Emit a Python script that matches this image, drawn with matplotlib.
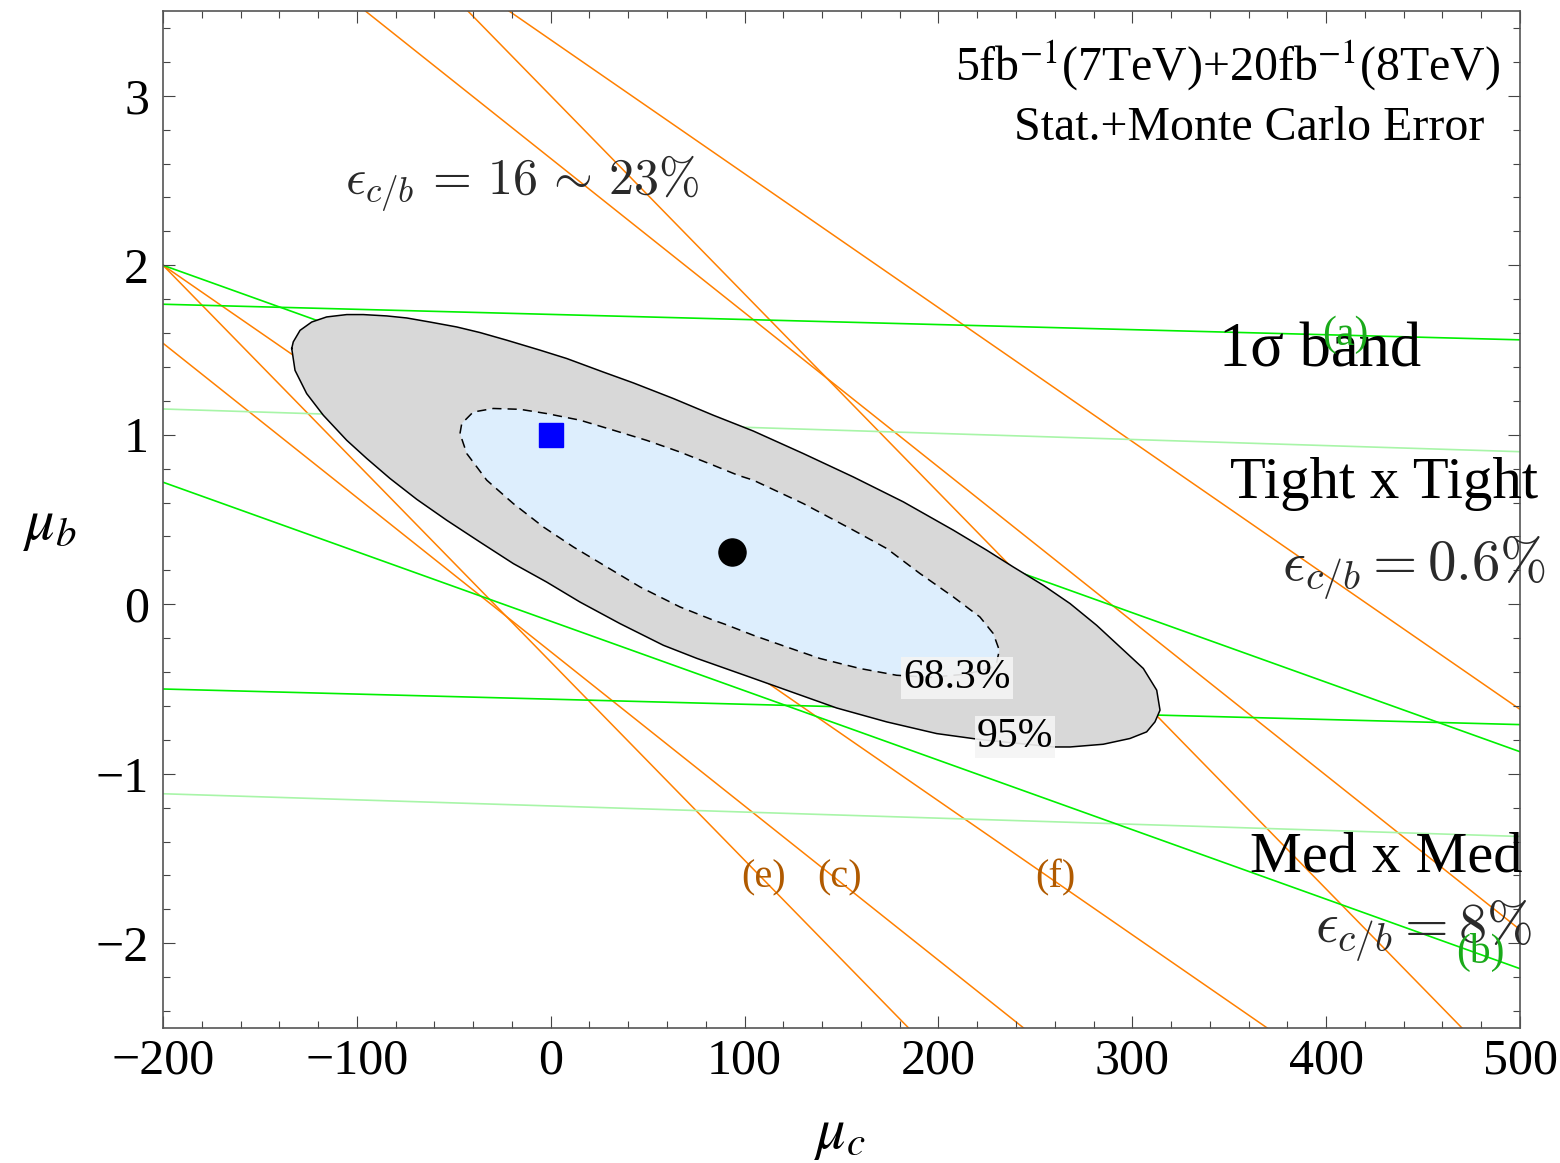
import numpy as np
import matplotlib
matplotlib.use("Agg")
import matplotlib.pyplot as plt
from matplotlib.ticker import MultipleLocator

plt.rcParams['font.family'] = ['Liberation Serif', 'DejaVu Serif']
plt.rcParams['mathtext.fontset'] = 'stix'

# ---------------- data ----------------
# 1-sigma bands: mu_b = intercept + slope * mu_c
orange_labels = ['(e)', '(c)', '(f)']
orange_slopes = [-0.0117, -0.0091, -0.0079]
orange_lo = [-0.34, -0.28, 0.42]
orange_hi = [3.00, 2.63, 3.33]

green_labels = ['(a)', '', '(b)']
green_slopes = [-0.0003, -0.00036, -0.0041]
green_lo = [-0.56, -1.19, -0.10]
green_hi = [1.71, 1.08, 1.18]

# 95% CL contour (mu_c, mu_b)
c95_mu_c = [-133.6, -132.8, -129.3, -123.3, -115.6, -105.2, -96.7, -84.6, -74.3, -62.3,
            -48.5, -36.5, -22.7, -5.5, 8.2, 27.1, 42.6, 63.2, 83.9, 104.5,
            130.3, 156.1, 181.9, 207.7, 224.9, 238.6, 254.1, 267.9, 281.6, 293.7,
            305.7, 312.6, 314.3, 311.7, 307.4, 298.8, 285.0, 267.9, 259.3, 242.1,
            221.4, 199.1, 173.3, 147.5, 121.7, 104.5, 89.9, 75.3, 58.1, 35.7,
            15.1, -2.1, -19.3, -36.5, -53.7, -69.1, -82.9, -94.9, -105.2, -117.3,
            -125.9, -131.9]
c95_mu_b = [1.509, 1.548, 1.616, 1.665, 1.695, 1.709, 1.709, 1.701, 1.689, 1.665,
            1.636, 1.603, 1.558, 1.499, 1.450, 1.370, 1.306, 1.214, 1.115, 1.022,
            0.889, 0.751, 0.604, 0.437, 0.319, 0.220, 0.112, 0.004, -0.124, -0.252,
            -0.379, -0.507, -0.625, -0.694, -0.753, -0.792, -0.826, -0.842, -0.842, -0.822,
            -0.798, -0.763, -0.694, -0.612, -0.507, -0.437, -0.378, -0.319, -0.242, -0.114,
            0.013, 0.131, 0.240, 0.367, 0.496, 0.619, 0.742, 0.860, 0.967, 1.115,
            1.243, 1.380]

# 68.3% CL contour (mu_c, mu_b)
c68_mu_c = [-46.8, -45.9, -40.0, -29.6, -15.8, -2.1, 15.1, 32.3, 49.5, 66.7,
            83.9, 96.6, 104.5, 130.3, 156.1, 173.3, 190.5, 207.7, 221.4, 228.3,
            231.4, 230.1, 226.6, 213.7, 195.7, 178.5, 159.5, 138.9, 121.7, 104.5,
            89.9, 83.9, 66.7, 46.1, 28.9, 11.7, -3.8, -19.3, -33.0, -43.3]
c68_mu_b = [1.007, 1.066, 1.134, 1.155, 1.150, 1.125, 1.086, 1.027, 0.967, 0.898,
            0.820, 0.761, 0.732, 0.594, 0.437, 0.329, 0.181, 0.043, -0.075, -0.173,
            -0.271, -0.341, -0.379, -0.413, -0.431, -0.419, -0.379, -0.320, -0.252, -0.183,
            -0.118, -0.094, -0.016, 0.102, 0.220, 0.338, 0.456, 0.594, 0.732, 0.889]

best_fit = (93.5, 0.31)
sm_point = (0.0, 1.0)

# ---------------- figure ----------------
fig = plt.figure(figsize=(15.6, 11.63), dpi=100)
ax = fig.add_axes([163/1560, 135/1163, 1357/1560, 1017/1163])
ax.set_xlim(-200, 500)
ax.set_ylim(-2.5, 3.5)

orange = '#ff8000'
for m, lo, hi in zip(orange_slopes, orange_lo, orange_hi):
    for b in (lo, hi):
        ax.axline((0, b), slope=m, color=orange, lw=1.1, zorder=1)

green_cols = ['#00f000', '#a8f5a8', '#00f000']
for m, lo, hi, c in zip(green_slopes, green_lo, green_hi, green_cols):
    for b in (lo, hi):
        ax.axline((0, b), slope=m, color=c, lw=1.2, zorder=1)

ax.fill(c95_mu_c, c95_mu_b, color='#d8d8d8', lw=0, zorder=2)
ax.plot(c95_mu_c + c95_mu_c[:1], c95_mu_b + c95_mu_b[:1], color='k', lw=1.1, zorder=3)
ax.fill(c68_mu_c, c68_mu_b, color='#ddeefd', lw=0, zorder=3)
ax.plot(c68_mu_c + c68_mu_c[:1], c68_mu_b + c68_mu_b[:1], color='k', lw=1.1,
        ls=(0, (6, 4)), zorder=4)

ax.plot(*best_fit, 'o', color='k', ms=19.5, zorder=6)
ax.plot(*sm_point, 's', color='#0000ff', ms=17, zorder=6)

# ticks
ax.xaxis.set_major_locator(MultipleLocator(100))
ax.xaxis.set_minor_locator(MultipleLocator(20))
ax.yaxis.set_major_locator(MultipleLocator(1))
ax.yaxis.set_minor_locator(MultipleLocator(0.2))
ax.tick_params(which='both', direction='in', top=True, right=True,
               color='#444444', width=0.8, labelsize=36, labelcolor='k')
ax.tick_params(which='major', length=8.6, pad=10)
ax.tick_params(axis='x', which='major', pad=7)
ax.tick_params(which='minor', length=5)
for s in ax.spines.values():
    s.set_color('#555555')
    s.set_linewidth(1.2)

ax.set_xlabel(r'$\mu_c$', fontsize=42, va='center')
ax.xaxis.set_label_coords(0.4989, -0.106)
ax.set_ylabel(r'$\mu_b$', fontsize=42, rotation=0, va='center', ha='center')
ax.yaxis.set_label_coords(-0.0833, 0.4926)

T = ax.transAxes
ax.text(0.9853, 0.946, r'5fb$^{-1}$(7TeV)+20fb$^{-1}$(8TeV)', transform=T,
        ha='right', va='center', fontsize=34.5, zorder=8)
ax.text(0.974, 0.885, 'Stat.+Monte Carlo Error', transform=T,
        ha='right', va='center', fontsize=34.5, zorder=8)

eps_col = '#2a2a2a'
ax.text(0.134, 0.819, r'$\epsilon_{c/b}\,=\,16\,\sim\,23\%$', transform=T, ha='left',
        va='baseline', fontsize=36, color=eps_col, math_fontfamily='cm', zorder=8)
ax.text(0.8526, 0.650, '1σ band', transform=T, ha='center', va='baseline',
        fontsize=45, zorder=8)
ax.text(0.7863, 0.521, 'Tight x Tight', transform=T, ha='left', va='baseline',
        fontsize=42.2, zorder=8)
ax.text(0.8246, 0.4405, r'$\epsilon_{c/b} = 0.6\%$', transform=T, ha='left',
        va='baseline', fontsize=41, color=eps_col, math_fontfamily='cm', zorder=8)
ax.text(0.801, 0.1534, 'Med x Med', transform=T, ha='left', va='baseline',
        fontsize=42, zorder=8)
ax.text(0.849, 0.0846, r'$\epsilon_{c/b} = 8\%$', transform=T, ha='left',
        va='baseline', fontsize=40.5, color=eps_col, math_fontfamily='cm', zorder=8)

dark_green = '#1aaa1a'
dark_orange = '#b05a00'
ax.text(0.871, 0.682, green_labels[0], transform=T, ha='center', va='center',
        fontsize=30, color=dark_green, zorder=9)
ax.text(0.9705, 0.0747, green_labels[2], transform=T, ha='center', va='center',
        fontsize=30, color=dark_green, zorder=9)
for lab, xp in zip(orange_labels, [0.4422, 0.4989, 0.6573]):
    ax.text(xp, 0.1475, lab, transform=T, ha='center', va='center',
            fontsize=29, color=dark_orange, zorder=9)

box = dict(boxstyle='square,pad=0.05', facecolor='#f4f4f4', edgecolor='none', alpha=0.9)
ax.text(0.5851, 0.3441, '68.3%', transform=T, ha='center', va='center',
        fontsize=30, bbox=box, zorder=7)
ax.text(0.6279, 0.2861, '95%', transform=T, ha='center', va='center',
        fontsize=30, bbox=box, zorder=7)

fig.savefig('out.png', dpi=100)
